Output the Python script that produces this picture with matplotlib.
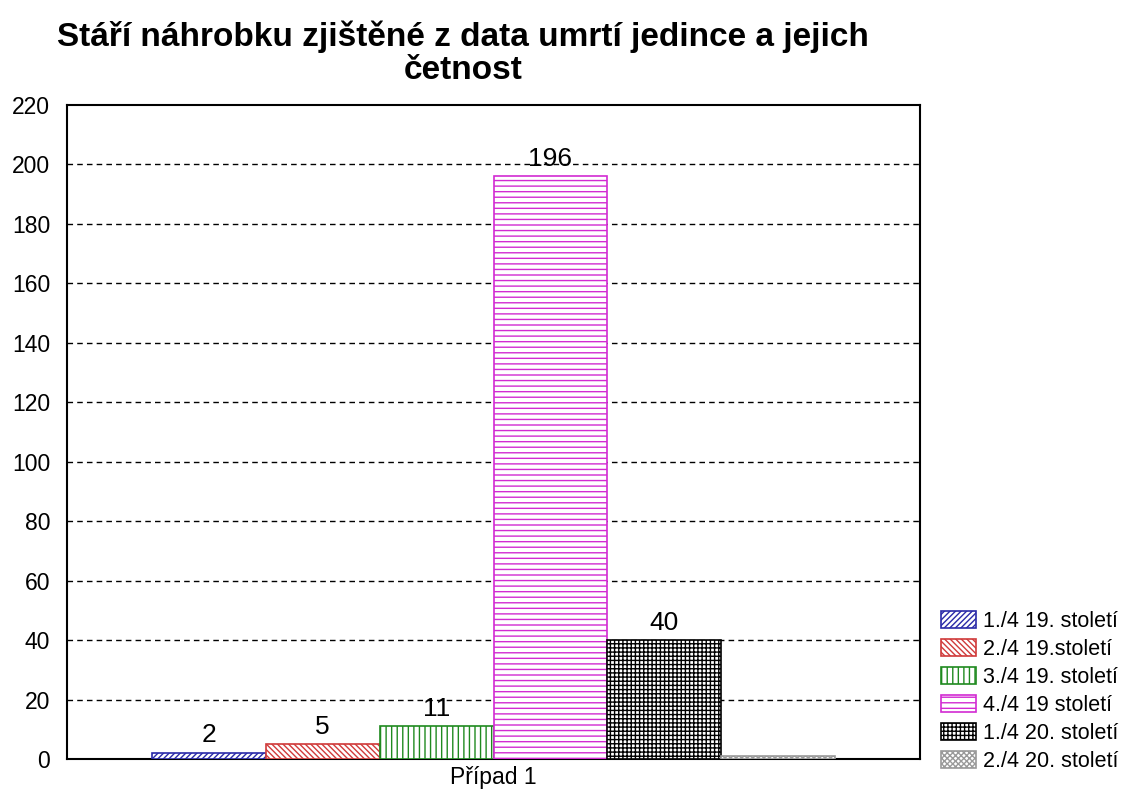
import matplotlib.pyplot as plt
import numpy as np

plt.rcParams['font.family'] = ['Liberation Sans', 'DejaVu Sans']
plt.rcParams['hatch.linewidth'] = 1.0

##### data #####
periods = ['1./4 19. století', '2./4 19.století', '3./4 19. století',
           '4./4 19 století', '1./4 20. století', '2./4 20. století']
counts = [2, 5, 11, 196, 40, 1]
shown_labels = ['2', '5', '11', '196', '40', '']
colors = ['#2a2aa8', '#d03a3a', '#1f8a1f', '#d22ad2', '#000000', '#9a9a9a']
hatches = ['//////', '\\\\\\\\\\\\', '|||', '---', '++++', 'xxxxxx']
case_label = 'Případ 1'
y_ticks = np.arange(0, 221, 20)

##### plot #####
fig = plt.figure(figsize=(11.29, 7.96), dpi=100)
ax = fig.add_axes([67/1129, 37/796, 853/1129, 654/796])

x = np.arange(len(counts))
bars = ax.bar(x, counts, width=1.0, color='white', edgecolor=colors,
              linewidth=1.2, zorder=3)
for b, h, c in zip(bars, hatches, colors):
    b.set_hatch(h)
    b.set_edgecolor(c)
ax.bar_label(bars, labels=shown_labels, padding=4, fontsize=19)

ax.set_xlim(-0.5 - 0.747, len(counts) - 0.5 + 0.747)
ax.set_ylim(0, 220)
ax.set_yticks(y_ticks)
ax.set_xticks([(len(counts) - 1) / 2])
ax.set_xticklabels([case_label])
ax.tick_params(axis='both', length=0, labelsize=16.5)
ax.tick_params(axis='y', pad=12)
ax.tick_params(axis='x', pad=5)

for v in y_ticks[1:-1]:
    ax.axhline(v, color='black', linestyle=(0, (4, 3)), linewidth=1.0, zorder=1)

for s in ax.spines.values():
    s.set_linewidth(1.5)

fig.text(463/1129, 1 - 53/796,
         'Stáří náhrobku zjištěné z data umrtí jedince a jejich\nčetnost',
         ha='center', va='center', fontsize=24, fontweight='bold',
         linespacing=1.1)

fig.legend(bars, periods, loc='lower left', bbox_to_anchor=(926/1129, 9/796),
           frameon=False, fontsize=15.5, handlelength=1.6, handleheight=0.85,
           labelspacing=0.32, handletextpad=0.35, borderpad=0.2)

fig.savefig('out.png', dpi=100)
